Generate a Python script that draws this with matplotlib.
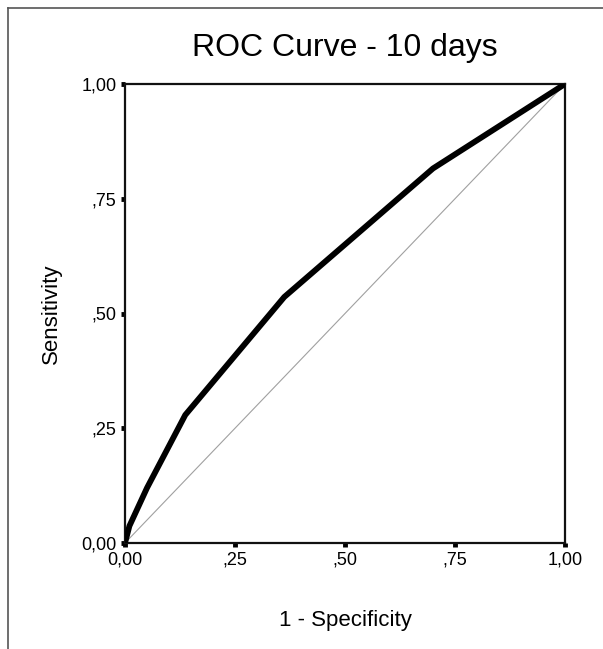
import matplotlib
matplotlib.use("Agg")
import matplotlib.pyplot as plt
from matplotlib.lines import Line2D

plt.rcParams['font.family'] = ['Liberation Sans', 'DejaVu Sans']

# ROC points
fpr = [0.0, 0.01, 0.05, 0.137, 0.362, 0.70, 1.0]
tpr = [0.0, 0.037, 0.12, 0.279, 0.536, 0.816, 1.0]

ticks = [0.0, 0.25, 0.5, 0.75, 1.0]
tick_labels = ['0,00', ',25', ',50', ',75', '1,00']

fig = plt.figure(figsize=(6.03, 6.49), dpi=100)
ax = fig.add_axes([125/603, 1 - 543/649, 440/603, 459/649])

# reference diagonal
ax.plot([0, 1], [0, 1], color='#a0a0a0', lw=0.8, zorder=2)
# ROC curve
ax.plot(fpr, tpr, color='black', lw=4.2, solid_joinstyle='round', zorder=3)

ax.set_xlim(0, 1)
ax.set_ylim(0, 1)
ax.set_xticks(ticks)
ax.set_xticklabels(tick_labels)
ax.set_yticks(ticks)
ax.set_yticklabels(tick_labels)
ax.tick_params(direction='out', length=3, width=3.5, labelsize=13, pad=3)

for s in ax.spines.values():
    s.set_linewidth(1.6)
    s.set_color('#111111')

ax.set_title('ROC Curve - 10 days', fontsize=23, pad=20)
ax.set_xlabel('1 - Specificity', fontsize=16, labelpad=30)
ax.set_ylabel('Sensitivity', fontsize=16, labelpad=14)

# outer frame (top and left edges visible)
fig.add_artist(Line2D([8/603, 1], [1 - 8/649, 1 - 8/649], color='#555555', lw=1.2))
fig.add_artist(Line2D([8/603, 8/603], [0, 1 - 8/649], color='#555555', lw=1.2))

fig.savefig('out.png', dpi=100)
